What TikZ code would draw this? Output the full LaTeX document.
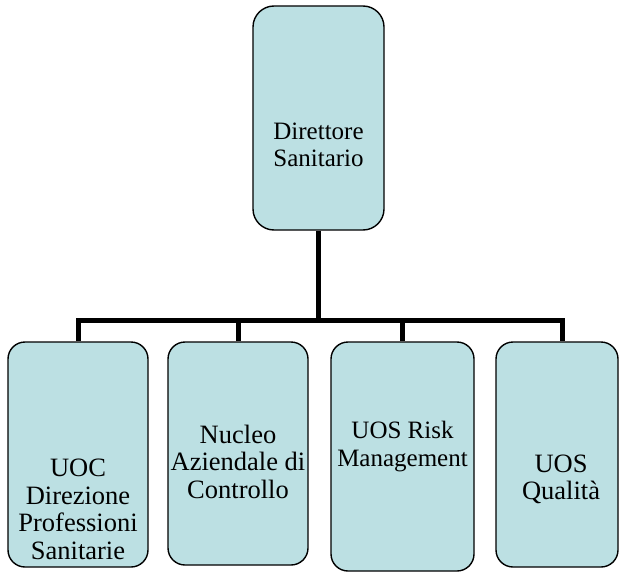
\documentclass[tikz,border=0pt]{standalone}
\usepackage{fontspec}
\setmainfont{Liberation Serif}
\usetikzlibrary{positioning, calc}

\definecolor{boxblu}{RGB}{188,224,227}

\tikzset{
  ufficio/.style={draw=black, line width=1.4pt, fill=boxblu, rounded corners=17pt, inner sep=0pt},
  scritta/.style={align=center, inner sep=0pt, font=\fontsize{25}{27.5}\selectfont},
  scrittalarga/.style={scritta, font=\fontsize{26.5}{27.5}\selectfont},
  collega/.style={line width=5pt}
}

\begin{document}
\begin{tikzpicture}[x=1pt,y=-1pt]
        \useasboundingbox (0,0) rectangle (620,572);
        % Direttore
        \node[ufficio, minimum width=131pt, minimum height=224pt, rounded corners=21pt] (dirsan) at (318.5,118) {};
        \node[scritta] (dirsan_t) at ($(dirsan.center)+(0,27)$) {Direttore\\Sanitario};
        % Uffici sotto
        \node[ufficio, minimum width=140pt, minimum height=225pt] (uoc) at (78,454.5) {};
        \node[ufficio, minimum width=140pt, minimum height=223pt] (nucleo) at (238,453.5) {};
        \node[ufficio, minimum width=143pt, minimum height=229pt] (risk) at (402.5,456.5) {};
        \node[ufficio, minimum width=122pt, minimum height=225pt] (qualita) at (557,454.5) {};
        \node[scrittalarga] (uoc_t) at ($(uoc.center)+(0,55)$) {UOC\\Direzione\\Professioni\\Sanitarie};
        \node[scrittalarga] (nucleo_t) at ($(nucleo.center)+(0,8)$) {Nucleo\\Aziendale di\\Controllo};
        \node[scritta] (risk_t) at ($(risk.center)+(0,-10)$) {UOS Risk\\Management};
        \node[scrittalarga] (qualita_t) at ($(qualita.center)+(4,25)$) {UOS\\Qualità};
        % Collegamenti
        \coordinate (bus) at (318,320);
        \draw[collega] (dirsan.south) -- (dirsan.south |- bus);
        \draw[collega] (uoc.north) -- (uoc.north |- bus) -- ($(qualita.north |- bus)+(5,0)$) -- ($(qualita.north)+(5,0)$);
        \draw[collega] (nucleo.north) -- (nucleo.north |- bus);
        \draw[collega] (risk.north) -- (risk.north |- bus);
\end{tikzpicture}
\end{document}
